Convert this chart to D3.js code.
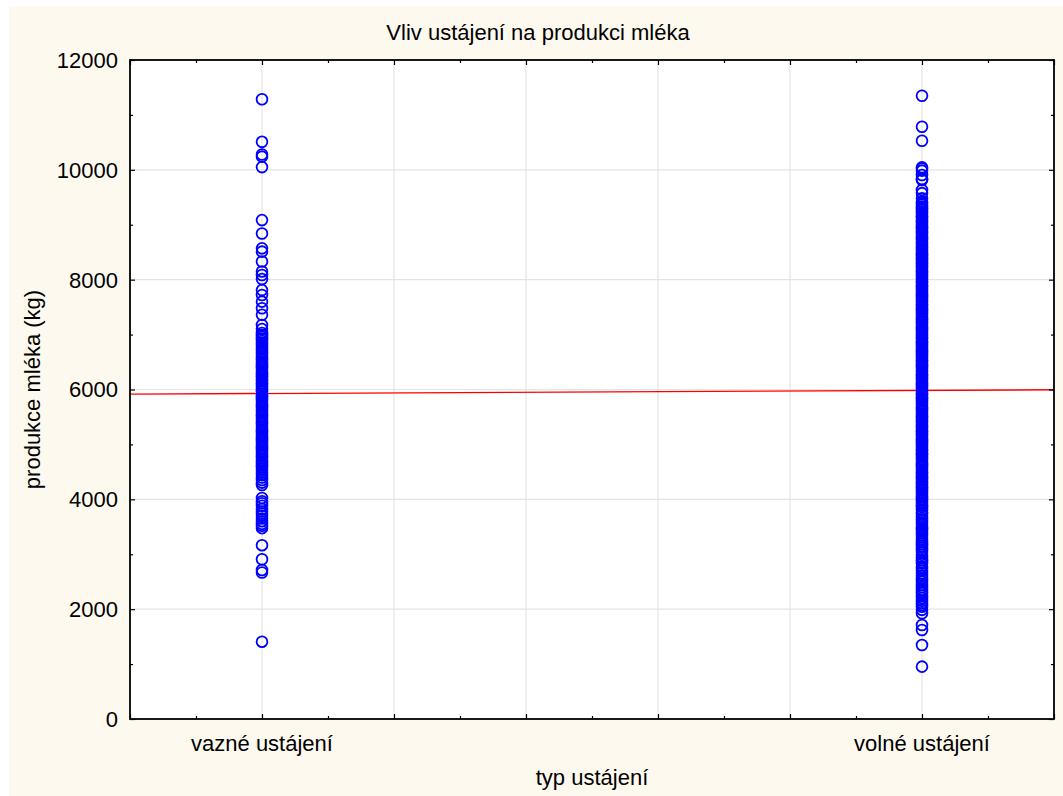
<!DOCTYPE html>
<html>
<head>
<meta charset="utf-8">
<script src="https://cdn.jsdelivr.net/npm/d3@7"></script>
<style>
  body { margin: 0; background: #fff; }
  text { font-family: "Liberation Sans", Arial, sans-serif; fill: #000; }
</style>
</head>
<body>
<script>
// categories and their codes on the x axis
var categories = ['vazné ustájení', 'volné ustájení']
var categoryCodes = [1, 6]
var yTicks = [0, 2000, 4000, 6000, 8000, 10000, 12000]

// milk production (kg), tied housing
var vazneValues = [
  11285, 10510, 10280, 10240, 10050, 9085, 8840, 8570, 8510, 8330, 8150, 8085, 8010,
  7810, 7720, 7600, 7480, 7360, 7175, 7100, 7030, 6992, 6958, 6921, 6884, 6851,
  6812, 6779, 6746, 6703, 6672, 6641, 6604, 6568, 6537, 6505, 6473, 6442, 6409,
  6376, 6343, 6311, 6279, 6247, 6212, 6183, 6151, 6116, 6082, 6049, 6021, 5988,
  5957, 5922, 5889, 5862, 5827, 5793, 5761, 5728, 5694, 5662, 5631, 5598, 5566,
  5532, 5501, 5468, 5436, 5402, 5371, 5339, 5306, 5272, 5241, 5208, 5176, 5143,
  5112, 5079, 5046, 5012, 4981, 4948, 4916, 4882, 4851, 4819, 4787, 4752, 4721,
  4688, 4656, 4622, 4591, 4558, 4521, 4483, 4441, 4398, 4352, 4305, 4260, 4025,
  3965, 3928, 3881, 3822, 3779, 3741, 3702, 3651, 3602, 3553, 3518, 3475, 3165,
  2908, 2713, 2668, 1408
]

// milk production (kg), loose housing
var volneValues = [
  11350, 10785, 10530, 10045, 10025, 9985, 9905, 9830, 9815, 9635, 9575, 9480,
  9421, 9392, 9364, 9333, 9302, 9271, 9243, 9212, 9181, 9152, 9123, 9091, 9062,
  9031, 9002, 8968, 8941, 8907, 8872, 8851, 8819, 8788, 8756, 8724, 8692, 8661,
  8628, 8601, 8571, 8538, 8512, 8479, 8451, 8418, 8392, 8359, 8331, 8302, 8268,
  8241, 8209, 8182, 8148, 8121, 8089, 8062, 8028, 8001, 7968, 7942, 7909, 7881,
  7848, 7822, 7788, 7761, 7729, 7702, 7668, 7641, 7609, 7582, 7549, 7521, 7488,
  7462, 7428, 7401, 7369, 7342, 7309, 7281, 7248, 7222, 7188, 7161, 7129, 7102,
  7068, 7041, 7009, 6982, 6948, 6922, 6889, 6861, 6828, 6802, 6768, 6741, 6709,
  6682, 6648, 6621, 6589, 6562, 6528, 6501, 6468, 6442, 6409, 6381, 6348, 6322,
  6288, 6261, 6229, 6202, 6168, 6141, 6109, 6082, 6048, 6021, 5989, 5962, 5928,
  5902, 5868, 5841, 5809, 5782, 5748, 5722, 5688, 5661, 5629, 5602, 5568, 5541,
  5509, 5482, 5448, 5422, 5388, 5361, 5329, 5302, 5268, 5241, 5209, 5182, 5148,
  5121, 5089, 5062, 5028, 5001, 4968, 4942, 4909, 4881, 4848, 4822, 4788, 4761,
  4729, 4702, 4668, 4641, 4609, 4582, 4548, 4521, 4489, 4462, 4428, 4401, 4369,
  4342, 4309, 4281, 4248, 4222, 4188, 4161, 4129, 4102, 4068, 4041, 4009, 3982,
  3948, 3921, 3889, 3862, 3805, 3762, 3742, 3701, 3655, 3622, 3582, 3541, 3501,
  3472, 3442, 3409, 3379, 3341, 3302, 3266, 3229, 3188, 3151, 3117, 3078, 3039,
  2991, 2948, 2895, 2861, 2832, 2773, 2741, 2702, 2653, 2611, 2562, 2529, 2498,
  2440, 2401, 2352, 2319, 2289, 2248, 2202, 2151, 2107, 2074, 2045, 1988, 1925,
  1712, 1621, 1348, 953
]

// fitted regression line at the ends of the x axis
var fitX = [0, 7]
var fitY = [5915, 5995]

var width = 1063, height = 796
var margin = { top: 60, right: 9, bottom: 77, left: 130 }
var plotW = width - margin.left - margin.right
var plotH = height - margin.top - margin.bottom
var fontSize = 22

var svg = d3.select('body').append('svg')
    .attr('width', width).attr('height', height)

svg.append('rect').attr('x', 9).attr('y', 6)
    .attr('width', width - 9).attr('height', height - 6)
    .attr('fill', '#fdf9ee')

var x = d3.scaleLinear().domain([0, 7]).range([0, plotW])
var y = d3.scaleLinear().domain([0, 12000]).range([plotH, 0])

var g = svg.append('g').attr('transform', `translate(${margin.left},${margin.top})`)

g.append('rect').attr('width', plotW).attr('height', plotH).attr('fill', '#fff')

// grid
g.append('g').selectAll('line').data(d3.range(1, 7)).enter().append('line')
    .attr('x1', d => x(d)).attr('x2', d => x(d))
    .attr('y1', 0).attr('y2', plotH)
    .attr('stroke', '#e4e4e4').attr('stroke-width', 1.2)
g.append('g').selectAll('line').data(yTicks.slice(1, -1)).enter().append('line')
    .attr('y1', d => y(d)).attr('y2', d => y(d))
    .attr('x1', 0).attr('x2', plotW)
    .attr('stroke', '#e4e4e4').attr('stroke-width', 1.2)

// regression line
g.append('line')
    .attr('x1', x(fitX[0])).attr('y1', y(fitY[0]))
    .attr('x2', x(fitX[1])).attr('y2', y(fitY[1]))
    .attr('stroke', '#ff0000').attr('stroke-width', 1.4)

// points
var series = [vazneValues, volneValues]
series.forEach(function(vals, i) {
  g.append('g').selectAll('circle').data(vals).enter().append('circle')
      .attr('cx', x(categoryCodes[i]))
      .attr('cy', d => y(d))
      .attr('r', 5.4)
      .attr('fill', 'none')
      .attr('stroke', '#0000ff')
      .attr('stroke-width', 1.8)
})

// axes, ticks pointing inward on all four sides
var xMajor = d3.range(0, 8), xMinor = d3.range(0.5, 7, 1)
var yMinor = d3.range(1000, 12000, 2000)

function tickAxis(axisFn, scale, vals, size) {
  return axisFn(scale).tickValues(vals).tickSizeInner(-size).tickSizeOuter(0).tickFormat('')
}

var axes = g.append('g')
axes.append('g').attr('transform', `translate(0,${plotH})`).call(tickAxis(d3.axisBottom, x, xMajor, 5))
axes.append('g').attr('transform', `translate(0,${plotH})`).call(tickAxis(d3.axisBottom, x, xMinor, 3))
axes.append('g').call(tickAxis(d3.axisTop, x, xMajor, 5))
axes.append('g').call(tickAxis(d3.axisTop, x, xMinor, 3))
axes.append('g').call(tickAxis(d3.axisLeft, y, yTicks, 5))
axes.append('g').call(tickAxis(d3.axisLeft, y, yMinor, 3))
axes.append('g').attr('transform', `translate(${plotW},0)`).call(tickAxis(d3.axisRight, y, yTicks, 5))
axes.append('g').attr('transform', `translate(${plotW},0)`).call(tickAxis(d3.axisRight, y, yMinor, 3))
axes.selectAll('.domain').remove()
axes.selectAll('line').attr('stroke', '#000').attr('stroke-width', 1.2)

g.append('rect').attr('width', plotW).attr('height', plotH)
    .attr('fill', 'none').attr('stroke', '#000').attr('stroke-width', 1.8)

// tick labels
g.append('g').selectAll('text').data(yTicks).enter().append('text')
    .attr('x', -12).attr('y', d => y(d)).attr('dy', '0.36em')
    .attr('text-anchor', 'end').attr('font-size', fontSize)
    .text(d => d)
g.append('g').selectAll('text').data(categories).enter().append('text')
    .attr('x', (d, i) => x(categoryCodes[i])).attr('y', plotH + 32)
    .attr('text-anchor', 'middle').attr('font-size', fontSize)
    .text(d => d)

// titles
svg.append('text').attr('x', 538).attr('y', 40)
    .attr('text-anchor', 'middle').attr('font-size', fontSize)
    .text('Vliv ustájení na produkci mléka')
svg.append('text').attr('x', margin.left + plotW / 2).attr('y', 785)
    .attr('text-anchor', 'middle').attr('font-size', fontSize)
    .text('typ ustájení')
svg.append('text')
    .attr('transform', `translate(40,${margin.top + plotH / 2}) rotate(-90)`)
    .attr('text-anchor', 'middle').attr('font-size', fontSize)
    .text('produkce mléka (kg)')
</script>
</body>
</html>
